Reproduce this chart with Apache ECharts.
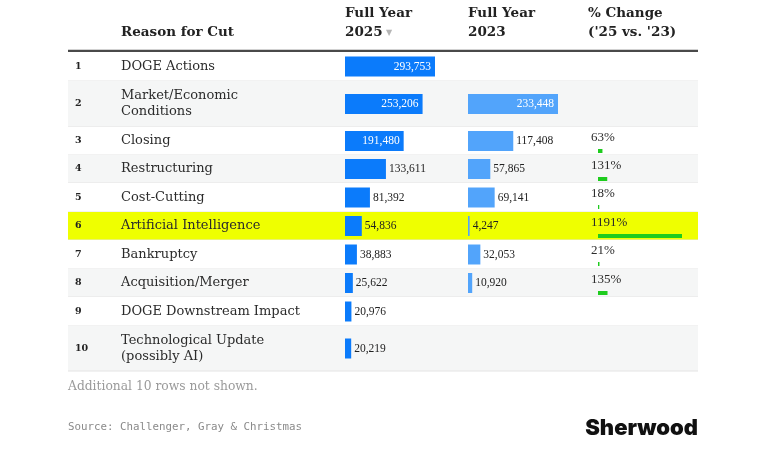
<!DOCTYPE html>
<html lang="en">
<head>
    <meta charset="UTF-8">
    <title>Reasons for Job Cuts</title>
    <script src="https://cdn.jsdelivr.net/npm/echarts@6/dist/echarts.min.js"></script>
    <style>
        html, body { margin: 0; padding: 0; background: #fff; }
        #chart { width: 768px; height: 458px; }
    </style>
</head>
<body>
    <div id="chart"></div>

    <script>
        const reasons = [
            'DOGE Actions',
            'Market/Economic\nConditions',
            'Closing',
            'Restructuring',
            'Cost-Cutting',
            'Artificial Intelligence',
            'Bankruptcy',
            'Acquisition/Merger',
            'DOGE Downstream Impact',
            'Technological Update\n(possibly AI)'
        ];
        const fy2025 = [293753, 253206, 191480, 133611, 81392, 54836, 38883, 25622, 20976, 20219];
        const fy2023 = [null, 233448, 117408, 57865, 69141, 4247, 32053, 10920, null, null];
        const pctChange = [null, null, 63, 131, 18, 1191, 21, 135, null, null];
        const highlightRow = 'Artificial Intelligence';

        // layout only: pixel height of each table row
        const rowHeights = [29, 46, 28, 28, 29, 28, 29, 28, 29, 45];
        const rowTops = [];
        rowHeights.reduce((acc, h) => { rowTops.push(acc); return acc + h; }, 0);
        const tableHeight = rowHeights.reduce((a, b) => a + b, 0);

        const serif = '"DejaVu Serif", serif';
        const numSerif = '"Liberation Serif", serif';
        const fmt = v => v.toLocaleString('en-US');

        function rowBackground(params, api) {
            const i = params.dataIndex;
            const cs = params.coordSys;
            const top = api.coord([0, rowTops[i]])[1];
            const bottom = api.coord([0, rowTops[i] + rowHeights[i]])[1];
            const mid = (top + bottom) / 2;
            let fill = i % 2 === 1 ? '#f5f6f6' : '#ffffff';
            if (reasons[i] === highlightRow) fill = '#efff00';
            return {
                type: 'group',
                children: [
                    { type: 'rect', shape: { x: cs.x, y: top, width: cs.width, height: bottom - top }, style: { fill: fill } },
                    { type: 'line', shape: { x1: cs.x, y1: bottom, x2: cs.x + cs.width, y2: bottom }, style: { stroke: '#e4e4e4', lineWidth: 1 } },
                    { type: 'text', x: cs.x + 7, y: mid, style: { text: String(i + 1), fontFamily: serif, fontWeight: 'bold', fontSize: 9.5, fill: '#222', verticalAlign: 'middle' } },
                    { type: 'text', x: cs.x + 53, y: mid, style: { text: reasons[i], fontFamily: serif, fontSize: 13, lineHeight: 16, fill: '#2b2b2b', verticalAlign: 'middle' } }
                ]
            };
        }

        function valueBars(color) {
            return function (params, api) {
                const v = api.value(0);
                const i = api.value(1);
                const mid = rowTops[i] + rowHeights[i] / 2;
                const start = api.coord([0, mid]);
                const end = api.coord([v, mid]);
                const w = end[0] - start[0];
                const inside = w > 55;
                return {
                    type: 'group',
                    children: [
                        { type: 'rect', shape: { x: start[0], y: start[1] - 10, width: w, height: 20 }, style: { fill: color } },
                        {
                            type: 'text', x: inside ? end[0] - 4 : end[0] + 3, y: start[1],
                            style: {
                                text: fmt(v), fontFamily: numSerif, fontSize: 11.5,
                                fill: inside ? '#ffffff' : '#222',
                                align: inside ? 'right' : 'left', verticalAlign: 'middle'
                            }
                        }
                    ]
                };
            };
        }

        function pctBars(params, api) {
            const v = api.value(0);
            const i = api.value(1);
            const top = rowTops[i];
            const a = api.coord([0, top + 22]);
            const b = api.coord([v, top + 22]);
            const t = api.coord([0, top + 11]);
            return {
                type: 'group',
                children: [
                    { type: 'rect', shape: { x: a[0], y: a[1], width: b[0] - a[0], height: 4 }, style: { fill: '#1ecc1e' } },
                    { type: 'text', x: t[0] - 7, y: t[1], style: { text: v + '%', fontFamily: numSerif, fontSize: 13, fill: '#2b2b2b', verticalAlign: 'middle' } }
                ]
            };
        }

        const pairs = arr => arr.map((v, i) => [v, i]).filter(d => d[0] !== null);
        const yAxisBase = { type: 'value', min: 0, max: tableHeight, inverse: true, show: false };

        const chart = echarts.init(document.getElementById('chart'));
        const option = {
            animation: false,
            grid: [
                { left: 68, top: 52, width: 630, height: tableHeight },
                { left: 345, top: 52, width: 90, height: tableHeight },
                { left: 468, top: 52, width: 90, height: tableHeight },
                { left: 598, top: 52, width: 84, height: tableHeight }
            ],
            xAxis: [
                { type: 'value', gridIndex: 0, min: 0, max: 1, show: false },
                { type: 'value', gridIndex: 1, min: 0, max: Math.max(...fy2025), show: false },
                { type: 'value', gridIndex: 2, min: 0, max: Math.max(...fy2023.filter(v => v !== null)), show: false },
                { type: 'value', gridIndex: 3, min: 0, max: Math.max(...pctChange.filter(v => v !== null)), show: false }
            ],
            yAxis: [0, 1, 2, 3].map(g => Object.assign({ gridIndex: g }, yAxisBase)),
            series: [
                { type: 'custom', xAxisIndex: 0, yAxisIndex: 0, z: 1, data: reasons.map((r, i) => [0, i]), renderItem: rowBackground },
                { type: 'custom', xAxisIndex: 1, yAxisIndex: 1, z: 3, data: pairs(fy2025), renderItem: valueBars('#0b7bfb') },
                { type: 'custom', xAxisIndex: 2, yAxisIndex: 2, z: 3, data: pairs(fy2023), renderItem: valueBars('#52a4fb') },
                { type: 'custom', xAxisIndex: 3, yAxisIndex: 3, z: 3, data: pairs(pctChange), renderItem: pctBars }
            ],
            graphic: [
                { type: 'text', left: 121, top: 25, style: { text: 'Reason for Cut', fontFamily: serif, fontWeight: 'bold', fontSize: 13.5, fill: '#222' } },
                { type: 'text', left: 345, top: 6, style: { text: 'Full Year', fontFamily: serif, fontWeight: 'bold', fontSize: 13.5, fill: '#222' } },
                { type: 'text', left: 345, top: 25, style: { text: '2025', fontFamily: serif, fontWeight: 'bold', fontSize: 13.5, fill: '#222' } },
                { type: 'text', left: 386, top: 29, style: { text: '▼', fontFamily: '"DejaVu Sans"', fontSize: 8, fill: '#b5b5b5' } },
                { type: 'text', left: 468, top: 6, style: { text: 'Full Year', fontFamily: serif, fontWeight: 'bold', fontSize: 13.5, fill: '#222' } },
                { type: 'text', left: 468, top: 25, style: { text: '2023', fontFamily: serif, fontWeight: 'bold', fontSize: 13.5, fill: '#222' } },
                { type: 'text', left: 588, top: 6, style: { text: '% Change', fontFamily: serif, fontWeight: 'bold', fontSize: 13.5, fill: '#222' } },
                { type: 'text', left: 588, top: 25, style: { text: "('25 vs. '23)", fontFamily: serif, fontWeight: 'bold', fontSize: 13.5, fill: '#222' } },
                { type: 'line', shape: { x1: 68, y1: 51, x2: 698, y2: 51 }, style: { stroke: '#4a4a4a', lineWidth: 2.5 } },
                { type: 'text', left: 68, top: 381, style: { text: 'Additional 10 rows not shown.', fontFamily: serif, fontSize: 12.3, fill: '#9a9a9a' } },
                { type: 'text', left: 68, top: 422, style: { text: 'Source: Challenger, Gray & Christmas', fontFamily: '"DejaVu Sans Mono", monospace', fontSize: 10.8, fill: '#8a8a8a' } },
                { type: 'text', right: 70, top: 417, style: { text: 'Sherwood', fontFamily: 'Inter, sans-serif', fontWeight: 900, fontSize: 22, fill: '#111' } }
            ]
        };
        chart.setOption(option);
    </script>
</body>
</html>
